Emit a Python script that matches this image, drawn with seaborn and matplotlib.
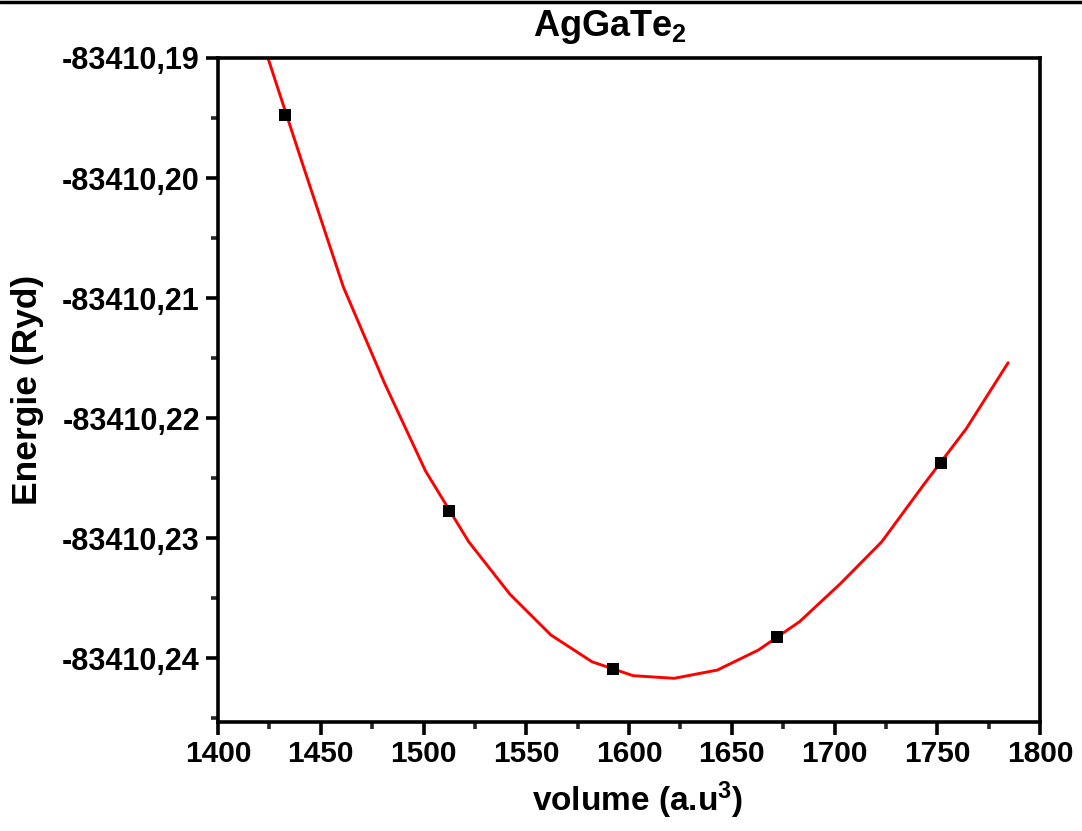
import matplotlib
matplotlib.use("Agg")
import matplotlib.pyplot as plt
import matplotlib.ticker as ticker
from matplotlib.lines import Line2D
import seaborn as sns
import pandas as pd

# measured data points
volume_pts = [1432.6, 1512.4, 1592.2, 1672.0, 1751.8]
energy_pts = [-83410.19475, -83410.22775, -83410.24092, -83410.23825, -83410.22375]

# fitted curve vertices
volume_fit = [1424.3, 1441, 1461, 1481, 1501, 1522, 1542, 1562, 1582, 1602,
              1622, 1643, 1663, 1683, 1703, 1723, 1744, 1764, 1784.5]
energy_fit = [-83410.19000, -83410.19875, -83410.20908, -83410.21708, -83410.22442,
              -83410.23031, -83410.23467, -83410.23808, -83410.24031, -83410.24147,
              -83410.24169, -83410.24100, -83410.23933, -83410.23697, -83410.23378,
              -83410.23031, -83410.22542, -83410.22092, -83410.21539]

x_ticks = [1400, 1450, 1500, 1550, 1600, 1650, 1700, 1750, 1800]
y_ticks = [-83410.24, -83410.23, -83410.22, -83410.21, -83410.20, -83410.19]

sns.set_style("ticks")
plt.rcParams['font.family'] = ['Liberation Sans', 'DejaVu Sans']
plt.rcParams['font.weight'] = 'bold'
plt.rcParams['mathtext.default'] = 'regular'

fig = plt.figure(figsize=(10.82, 8.31), dpi=100)
ax = fig.add_axes([218/1082, 1-722/831, (1040-218)/1082, (722-58)/831])

df_fit = pd.DataFrame({"v": volume_fit, "e": energy_fit})
df_pts = pd.DataFrame({"v": volume_pts, "e": energy_pts})

sns.lineplot(data=df_fit, x="v", y="e", sort=False, color="#ff0000", linewidth=2.1, ax=ax, zorder=2)
sns.scatterplot(data=df_pts, x="v", y="e", marker="s", color="black", s=70, edgecolor="black",
                linewidth=0, ax=ax, zorder=3)

ax.set_xlim(1400, 1800)
ax.set_ylim(-83410.24533, -83410.19)
ax.set_xticks(x_ticks)
ax.set_yticks(y_ticks)
ax.xaxis.set_minor_locator(ticker.MultipleLocator(25))
ax.yaxis.set_minor_locator(ticker.MultipleLocator(0.005))
ax.yaxis.set_major_formatter(ticker.FuncFormatter(lambda v, p: f"{v:.2f}".replace('.', ',')))
ax.xaxis.set_major_formatter(ticker.FuncFormatter(lambda v, p: f"{v:.0f}"))

for s in ax.spines.values():
    s.set_visible(True)
    s.set_linewidth(2.6)
    s.set_color("black")

ax.tick_params(axis='both', which='major', direction='out', length=9, width=2.6,
               pad=4, colors='black')
ax.tick_params(axis='y', which='major', labelsize=22)
ax.tick_params(axis='x', which='major', labelsize=21.5)
ax.tick_params(axis='both', which='minor', direction='out', length=5, width=2.6)
ax.tick_params(top=False, right=False, which='both')
for lab in ax.get_xticklabels() + ax.get_yticklabels():
    lab.set_fontweight('bold')

ax.set_xlabel("volume (a.u$^3$)", fontsize=24, fontweight='bold', color='black')
ax.set_ylabel("Energie (Ryd)", fontsize=25.5, fontweight='bold', color='black')
ax.xaxis.set_label_coords((638-218)/822, (722-800)/664)
ax.yaxis.set_label_coords((28-218)/822, 0.5)
ax.xaxis.label.set_va('center')
ax.yaxis.label.set_va('center')
ax.text((610-218)/822, (722-27)/664, "AgGaTe$_2$", transform=ax.transAxes,
        ha='center', va='center', fontsize=26, fontweight='bold', color='black')

fig.add_artist(Line2D([0, 1], [1 - 1.5/831, 1 - 1.5/831], transform=fig.transFigure,
                      color='black', linewidth=2.5))

fig.savefig("out.png", dpi=100)
